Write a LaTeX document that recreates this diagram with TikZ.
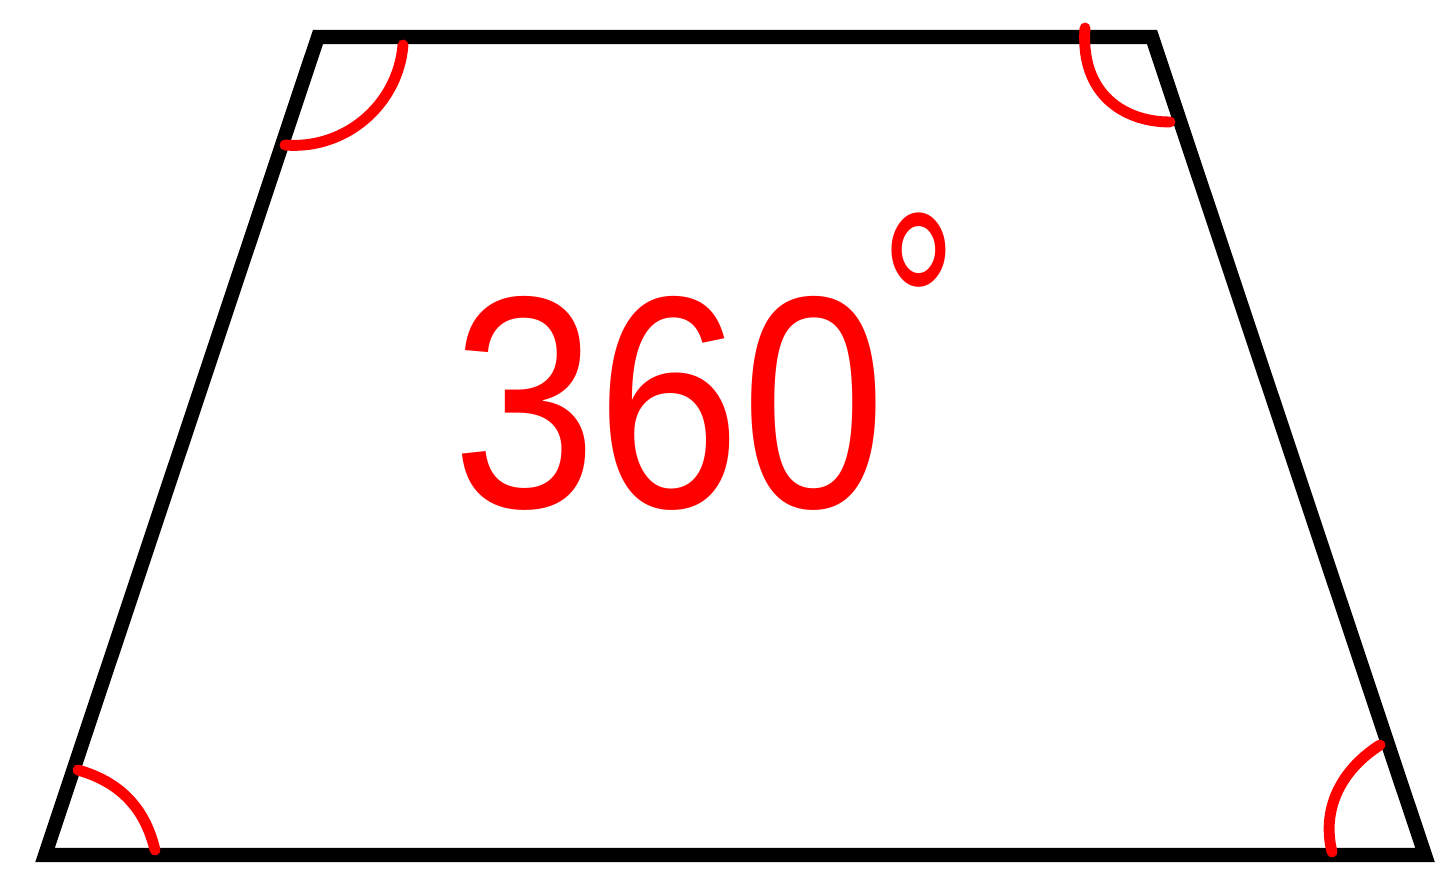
\documentclass[tikz,border=0pt]{standalone}
\usepackage{fontspec}
\setsansfont{Liberation Sans}
\usepackage{tikz}

\begin{document}
\begin{tikzpicture}[x=0.01cm, y=-0.01cm, % one unit = one pixel
	side/.style={line width=4pt, line join=miter},
	anglearc/.style={red, line width=3.1pt, line cap=round},
	handtext/.style={red, font=\sffamily, inner sep=0pt}]
	\useasboundingbox (0,0) rectangle (1440,885);

	\coordinate (tl) at (318,37);
	\coordinate (tr) at (1152,37);
	\coordinate (br) at (1425,855);
	\coordinate (bl) at (45,855);

	\draw[side] (tl)--(tr)--(br)--(bl)--cycle;

	% angle marks
	\draw[anglearc] (285,145) .. controls (345,150) and (398,105) .. (403,45);
	\draw[anglearc] (1085,28) .. controls (1080,95) and (1125,122) .. (1170,122);
	\draw[anglearc] (78,770) .. controls (120,782) and (145,808) .. (155,850);
	\draw[anglearc] (1380,745) .. controls (1338,772) and (1322,812) .. (1332,852);

	\node[handtext, xscale=0.86] (sum) at (669,403) {\fontsize{86}{86}\selectfont 360};
	\node[handtext, xscale=0.72] (deg) at (919,306) {\fontsize{76}{76}\selectfont °};

\end{tikzpicture}
\end{document}
